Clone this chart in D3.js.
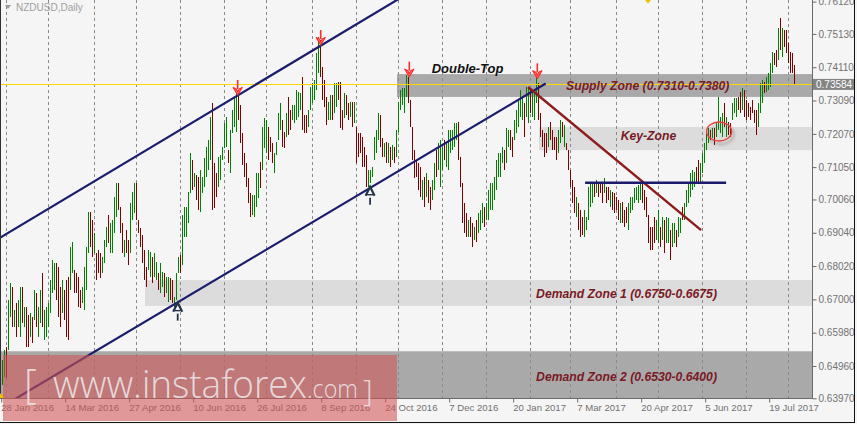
<!DOCTYPE html>
<html><head><meta charset="utf-8">
<script src="https://cdn.jsdelivr.net/npm/d3@7/dist/d3.min.js"></script>
<style>html,body{margin:0;padding:0;background:#f5f5f5;}svg{display:block;}</style>
</head><body>
<svg id="chart" width="857" height="424"></svg>
<script>
// ---------------- DATA ----------------
const symbolTitle = "NZDUSD,Daily";
const dateLabels = ["28 Jan 2016","14 Mar 2016","27 Apr 2016","10 Jun 2016","26 Jul 2016","8 Sep 2016","24 Oct 2016","7 Dec 2016","20 Jan 2017","7 Mar 2017","20 Apr 2017","5 Jun 2017","19 Jul 2017"];
const dateLabelBars = [0,32,64,96,128,160,192,224,256,288,320,352,384];
const monthStartBars = [2,23,46,67,89,111,132,155,177,198,220,242,264,284,307,328,350,372,393];
const priceTicks = [0.76120,0.75130,0.74110,0.73090,0.72070,0.71050,0.70060,0.69040,0.68020,0.67000,0.65980,0.64960,0.63970];
const lastPrice = 0.73584;

const highs = [
0.6514,0.6545,0.6554,0.6698,0.6750,0.6738,0.6667,0.6689,0.6698,0.6738,
0.6738,0.6676,0.6676,0.6652,0.6658,0.6646,0.6728,0.6719,0.6676,0.6728,
0.6781,0.6667,0.6676,0.6689,0.6759,0.6820,0.6811,0.6811,0.6799,0.6738,
0.6759,0.6728,0.6759,0.6768,0.6860,0.6876,0.6790,0.6781,0.6768,0.6728,
0.6738,0.6799,0.6860,0.6967,0.6967,0.6943,0.6903,0.6842,0.6851,0.6842,
0.6830,0.6882,0.6922,0.6958,0.6934,0.6943,0.7013,0.7056,0.7056,0.6983,
0.6934,0.6882,0.6912,0.6882,0.6995,0.7029,0.7056,0.7056,0.6943,0.6918,
0.6897,0.6851,0.6799,0.6851,0.6845,0.6830,0.6842,0.6814,0.6781,0.6811,
0.6784,0.6781,0.6768,0.6768,0.6765,0.6759,0.6707,0.6781,0.6830,0.6836,
0.6958,0.6983,0.6983,0.7029,0.7148,0.7127,0.7087,0.7081,0.7075,
0.7096,0.7075,0.7133,0.7167,0.7188,0.7259,0.7301,0.7118,0.7087,0.7136,
0.7142,0.7167,0.7240,0.7259,0.7157,0.7219,0.7280,0.7320,0.7332,0.7332,
0.7295,0.7210,0.7148,0.7118,0.7072,0.7026,0.7019,0.7019,0.7087,0.7087,
0.7121,0.7228,0.7255,0.7249,0.7228,0.7197,0.7179,0.7148,0.7182,0.7271,
0.7301,0.7249,0.7213,0.7271,0.7320,0.7280,0.7295,0.7295,0.7341,0.7335,
0.7332,0.7381,0.7265,0.7265,0.7280,0.7350,0.7363,0.7372,0.7455,0.7504,
0.7494,0.7412,0.7372,0.7320,0.7304,0.7326,0.7326,0.7363,0.7363,0.7366,
0.7366,0.7280,0.7332,0.7326,0.7301,0.7304,0.7304,0.7304,0.7228,0.7210,
0.7210,0.7197,0.7167,0.7142,0.7096,0.7096,0.7105,0.7197,0.7219,0.7271,
0.7265,0.7194,0.7179,0.7182,0.7179,0.7167,0.7173,0.7167,0.7219,0.7304,
0.7341,0.7347,0.7347,0.7387,0.7381,0.7311,0.7228,0.7157,0.7127,0.7118,
0.7105,0.7065,0.7075,0.7087,0.7065,0.7044,0.7065,0.7118,0.7157,0.7179,
0.7188,0.7167,0.7188,0.7179,0.7219,0.7219,0.7219,0.7240,0.7240,0.7243,
0.7136,0.7056,0.6995,0.6964,0.6943,0.6952,0.6934,0.6922,0.6943,0.6964,
0.6974,0.6995,0.6983,0.6995,0.7035,0.7056,0.7056,0.7075,0.7127,0.7148,
0.7148,0.7167,0.7157,0.7225,0.7219,0.7219,0.7197,0.7249,0.7280,0.7311,
0.7341,0.7320,0.7301,0.7350,0.7347,0.7341,0.7341,0.7341,0.7381,0.7363,
0.7271,0.7219,0.7210,0.7210,0.7228,0.7243,0.7219,0.7197,0.7197,0.7219,
0.7249,0.7243,0.7234,0.7179,0.7157,0.7096,0.7065,0.7044,0.7013,0.6995,
0.6974,0.6952,0.6974,0.6952,0.7044,0.7056,0.7056,0.7059,0.7065,0.7059,
0.7056,0.7056,0.7072,0.7044,0.7044,0.7035,0.7029,0.7026,0.7013,0.7004,
0.6995,0.6998,0.6974,0.6983,0.6995,0.7013,0.7013,0.7041,0.7044,0.7050,
0.7059,0.7059,0.7035,0.7013,0.6958,0.6922,0.6922,0.6952,0.6943,0.6974,
0.6922,0.6952,0.6943,0.6952,0.6949,0.6912,0.6934,0.6934,0.6912,0.6952,
0.6949,0.6983,0.6995,0.7035,0.7056,0.7087,0.7096,0.7090,0.7105,0.7127,
0.7118,0.7148,0.7179,0.7210,0.7225,0.7219,0.7225,0.7225,0.7240,0.7320,
0.7259,0.7271,0.7301,0.7259,0.7243,0.7240,0.7301,0.7317,0.7317,0.7320,
0.7335,0.7347,0.7341,0.7311,0.7301,0.7289,0.7311,0.7280,0.7280,0.7301,
0.7363,0.7372,0.7366,0.7381,0.7393,0.7424,0.7458,0.7455,0.7464,0.7531,
0.7562,0.7531,0.7525,0.7525,0.7485,0.7458,0.7455,0.7418];
const lows = [
0.6437,0.6462,0.6459,0.6545,0.6646,0.6615,0.6615,0.6585,0.6615,0.6585,
0.6627,0.6615,0.6554,0.6554,0.6585,0.6566,0.6637,0.6615,0.6585,0.6627,
0.6615,0.6575,0.6585,0.6615,0.6658,0.6719,0.6728,0.6698,0.6646,0.6615,
0.6658,0.6637,0.6585,0.6575,0.6728,0.6781,0.6719,0.6719,0.6676,0.6673,
0.6689,0.6667,0.6728,0.6842,0.6860,0.6830,0.6842,0.6759,0.6781,0.6765,
0.6781,0.6811,0.6860,0.6872,0.6842,0.6842,0.6903,0.6952,0.6974,0.6903,
0.6842,0.6830,0.6842,0.6805,0.6842,0.6943,0.6964,0.6943,0.6903,0.6860,
0.6811,0.6759,0.6738,0.6790,0.6768,0.6750,0.6768,0.6759,0.6728,0.6719,
0.6738,0.6707,0.6719,0.6692,0.6698,0.6689,0.6676,0.6698,0.6781,0.6781,
0.6805,0.6891,0.6891,0.6934,0.7026,0.7035,0.7044,0.7004,0.6974,
0.6967,0.7026,0.7044,0.7075,0.7096,0.7127,0.6974,0.6980,0.7013,0.7044,
0.7065,0.7127,0.7164,0.7167,0.7118,0.7087,0.7210,0.7228,0.7213,0.7249,
0.7179,0.7111,0.7075,0.7044,0.6995,0.6952,0.6958,0.6952,0.6983,0.7010,
0.7041,0.7096,0.7164,0.7148,0.7127,0.7151,0.7118,0.7087,0.7142,0.7188,
0.7219,0.7167,0.7164,0.7197,0.7203,0.7219,0.7249,0.7240,0.7249,0.7259,
0.7280,0.7219,0.7210,0.7210,0.7228,0.7280,0.7301,0.7311,0.7341,0.7393,
0.7381,0.7311,0.7289,0.7234,0.7249,0.7249,0.7249,0.7271,0.7289,0.7311,
0.7225,0.7219,0.7255,0.7265,0.7249,0.7259,0.7228,0.7240,0.7118,0.7136,
0.7148,0.7105,0.7105,0.7044,0.7044,0.7056,0.7075,0.7127,0.7148,0.7188,
0.7167,0.7136,0.7136,0.7118,0.7118,0.7105,0.7127,0.7118,0.7136,0.7213,
0.7280,0.7295,0.7271,0.7320,0.7301,0.7228,0.7127,0.7072,0.7075,0.7035,
0.7013,0.7004,0.6983,0.7013,0.6995,0.6974,0.7004,0.7035,0.7075,0.7096,
0.7044,0.7096,0.7127,0.7105,0.7096,0.7148,0.7157,0.7167,0.7188,0.7127,
0.7044,0.6934,0.6903,0.6891,0.6891,0.6891,0.6860,0.6882,0.6876,0.6903,
0.6912,0.6934,0.6922,0.6943,0.6943,0.6974,0.6974,0.7004,0.7035,0.7075,
0.7075,0.7118,0.7096,0.7118,0.7167,0.7157,0.7136,0.7188,0.7210,0.7228,
0.7259,0.7249,0.7197,0.7259,0.7240,0.7271,0.7259,0.7249,0.7301,0.7249,
0.7197,0.7167,0.7136,0.7148,0.7167,0.7188,0.7157,0.7157,0.7127,0.7148,
0.7179,0.7197,0.7167,0.7157,0.7096,0.7044,0.6995,0.6964,0.6952,0.6912,
0.6891,0.6897,0.6891,0.6912,0.6943,0.6983,0.6995,0.7013,0.7026,0.7013,
0.7026,0.6995,0.7026,0.6995,0.7004,0.6983,0.6974,0.6964,0.6974,0.6943,
0.6934,0.6934,0.6922,0.6934,0.6912,0.6964,0.6974,0.6995,0.7004,0.6995,
0.7004,0.6995,0.6974,0.6952,0.6872,0.6851,0.6851,0.6872,0.6882,0.6872,
0.6860,0.6882,0.6842,0.6872,0.6872,0.6820,0.6860,0.6872,0.6860,0.6891,
0.6903,0.6943,0.6943,0.6983,0.6995,0.7013,0.7035,0.7044,0.7056,0.7056,
0.7056,0.7087,0.7118,0.7157,0.7179,0.7188,0.7194,0.7173,0.7197,0.7219,
0.7210,0.7197,0.7228,0.7197,0.7203,0.7197,0.7249,0.7271,0.7259,0.7280,
0.7271,0.7280,0.7259,0.7249,0.7259,0.7249,0.7271,0.7240,0.7203,0.7228,
0.7271,0.7301,0.7332,0.7335,0.7341,0.7350,0.7393,0.7418,0.7412,0.7433,
0.7464,0.7442,0.7473,0.7455,0.7424,0.7393,0.7393,0.7357];
// g = bullish bar, r = bearish bar
const barDirections = (
"ggrggrgrgg"+"rgrrgrgrgg"+"rggggggrrr"+"grrrggrrrr"+"ggggrrgrrr"+
"gggrggggrr"+"rgrrgggrrr"+"rrrggrggrg"+"grggrrgggr"+"gggggrgrr"+
"ggggggrrrg"+"ggggrggggr"+"rrrrrrgggg"+"rgggrrrggg"+"grrgrrgggg"+
"grrrgggggg"+"rrrrggrggr"+"rrgrrgrgrr"+"rrrrgggggg"+"rrgrgrgrgg"+
"ggggrrrrrr"+"rgrgrrggrg"+"ggrggggggr"+"rrrrgrrgrg"+"ggrggggggg"+
"ggrggrrggg"+"ggrggrgggr"+"rrrrgrrrrg"+"grgrrrrrgr"+"rrgggggrgr"+
"rrgrrgrrrr"+"grrrgggggg"+"grrrrrrrgg"+"rgrggrggrg"+"grggggggrr"+
"gggggrgrgg"+"ggrgrrgggr"+"rgrrrrrrrg"+"ggrggggrrg"+"rgrrrrrr").split("");

// zones: [startBar, lowPrice, highPrice]
const supplyZone = [197.6, 0.7320, 0.7390];
const keyZone = [268.6, 0.7157, 0.7228];
const demandZone1 = [71.6, 0.6680, 0.6759];
const demandZone2 = [-2, 0.6380, 0.6541];
// trend lines: [[bar, price],[bar, price]]
const channelUpper = [[-2, 0.68843], [200, 0.76256]];
const channelLower = [[-2, 0.63634], [272, 0.73610]];
const downTrend = [[263.2, 0.73504], [349.7, 0.69123]];
const breakLevel = [[291.7, 0.70572], [362.2, 0.70572]];
const circleMark = [358.7, 0.72141];
const topArrows = [[118, 0.7326], [159.5, 0.7479], [203.8, 0.7382], [267.8, 0.7377]];
const bottomArrows = [[88, 0.6690], [184.2, 0.7045]];
const annotations = [
  {text:"Double-Top", bar:215, price:0.7393, kind:"black"},
  {text:"Supply Zone (0.7310-0.7380)", bar:282.2, price:0.7342, kind:"zone"},
  {text:"Key-Zone", bar:309.5, price:0.7188, kind:"zone"},
  {text:"Demand Zone 1 (0.6750-0.6675)", bar:267.2, price:0.6705, kind:"zone"},
  {text:"Demand Zone 2 (0.6530-0.6400)", bar:267.2, price:0.6450, kind:"zone"}
];

// ---------------- DRAW ----------------
const svg = d3.select("#chart");
const PR = 812, PB = 398;
const x = d3.scaleLinear().domain([0, 400]).range([1.7, 801.7]);
const y = d3.scaleLinear().domain([0.63970, 0.76120]).range([398.3, 1.6]);
const AX_FONT = "'Liberation Sans', Arial, sans-serif";

svg.append("rect").attr("width", 857).attr("height", 424).attr("fill", "#f5f5f5");

const defs = svg.append("defs");
defs.append("clipPath").attr("id", "plotclip").append("rect")
  .attr("x", 0).attr("y", 0).attr("width", PR).attr("height", PB);
const f = defs.append("filter").attr("id", "shadow").attr("x", "-50%").attr("y", "-50%").attr("width", "200%").attr("height", "200%");
f.append("feDropShadow").attr("dx", 2).attr("dy", 3).attr("stdDeviation", 1.6)
  .attr("flood-color", "#555").attr("flood-opacity", 0.55);

const plot = svg.append("g").attr("clip-path", "url(#plotclip)");

// zones
function zone(z, fill) {
  plot.append("rect")
    .attr("x", Math.round(x(z[0]))).attr("y", y(z[2]))
    .attr("width", PR - Math.round(x(z[0]))).attr("height", y(z[1]) - y(z[2]))
    .attr("fill", fill);
}
zone(demandZone2, "#a9a9a9");
zone(demandZone1, "#dcdcdc");
zone(keyZone, "#dcdcdc");
zone(supplyZone, "#a9a9a9");

// month grid
plot.selectAll("line.grid").data(monthStartBars).join("line")
  .attr("class", "grid")
  .attr("x1", d => Math.round(x(d)) + 0.5).attr("x2", d => Math.round(x(d)) + 0.5)
  .attr("y1", 0).attr("y2", PB)
  .attr("stroke", "#8a8a8a").attr("stroke-width", 1).attr("stroke-dasharray", "3,3")
  .attr("shape-rendering", "crispEdges");

// bars
const bars = highs.map((h, i) => ({i, h, l: lows[i], d: barDirections[i]}));
plot.selectAll("line.bar").data(bars).join("line")
  .attr("class", "bar")
  .attr("x1", d => Math.round(x(d.i)) + 0.5).attr("x2", d => Math.round(x(d.i)) + 0.5)
  .attr("y1", d => Math.round(y(d.h))).attr("y2", d => Math.round(y(d.l)))
  .attr("stroke", d => d.d === "g" ? "#008000" : "#800000")
  .attr("stroke-width", 1).attr("shape-rendering", "crispEdges");

// current price line
plot.append("line").attr("x1", 0).attr("x2", PR)
  .attr("y1", Math.round(y(lastPrice)) + 0.5).attr("y2", Math.round(y(lastPrice)) + 0.5)
  .attr("stroke", "#ffd700").attr("stroke-width", 1.2);

// trend lines
const lineGen = d3.line().x(d => x(d[0])).y(d => y(d[1]));
plot.append("path").attr("d", lineGen(channelUpper)).attr("stroke", "#1c1c6e").attr("stroke-width", 2.2).attr("fill", "none");
plot.append("path").attr("d", lineGen(channelLower)).attr("stroke", "#1c1c6e").attr("stroke-width", 2.2).attr("fill", "none");
plot.append("path").attr("d", lineGen(downTrend)).attr("stroke", "#8e1c1c").attr("stroke-width", 2.4).attr("fill", "none");
plot.append("path").attr("d", lineGen(breakLevel)).attr("stroke", "#1c1c6e").attr("stroke-width", 2.6).attr("fill", "none");

// circle
plot.append("ellipse").attr("cx", x(circleMark[0])).attr("cy", y(circleMark[1]))
  .attr("rx", 12.5).attr("ry", 9.5).attr("fill", "none")
  .attr("stroke", "#e8403a").attr("stroke-width", 1.4).attr("filter", "url(#shadow)");

// top (red, down) arrows
topArrows.forEach(a => {
  const cx = x(a[0]), ty = y(a[1]);
  const g = plot.append("g");
  g.append("line").attr("x1", cx).attr("x2", cx).attr("y1", ty - 15).attr("y2", ty - 6)
    .attr("stroke", "#ff2a2a").attr("stroke-width", 1.6);
  g.append("path").attr("d", `M${cx-4.5},${ty-7.5} L${cx},${ty} L${cx+4.5},${ty-7.5} L${cx+1.5},${ty-6} L${cx},${ty-3} L${cx-1.5},${ty-6} Z`)
    .attr("fill", "#ff8a8a").attr("stroke", "#ff2a2a").attr("stroke-width", 1.2).attr("stroke-linejoin", "round");
});
// bottom (dark, up) arrows
bottomArrows.forEach(a => {
  const cx = x(a[0]), ty = y(a[1]);
  const g = plot.append("g");
  g.append("path").attr("d", `M${cx-4.5},${ty+9} L${cx},${ty} L${cx+4.5},${ty+9}`)
    .attr("fill", "none").attr("stroke", "#23344a").attr("stroke-width", 2.2);
  g.append("line").attr("x1", cx - 3).attr("x2", cx + 3).attr("y1", ty + 8).attr("y2", ty + 8)
    .attr("stroke", "#23344a").attr("stroke-width", 1.4);
  g.append("line").attr("x1", cx).attr("x2", cx).attr("y1", ty + 11).attr("y2", ty + 18)
    .attr("stroke", "#23344a").attr("stroke-width", 1.8);
});

// annotations
svg.selectAll("text.ann").data(annotations).join("text")
  .attr("class", "ann")
  .attr("x", d => x(d.bar)).attr("y", d => y(d.price))
  .attr("font-family", AX_FONT).attr("font-size", d => d.kind === "black" ? 13 : 12.2)
  .attr("font-weight", "bold").attr("font-style", "italic")
  .attr("fill", d => d.kind === "black" ? "#111" : "#7a1a24")
  .text(d => d.text);

// axes frame
svg.append("line").attr("x1", PR + 0.5).attr("x2", PR + 0.5).attr("y1", 0).attr("y2", PB + 0.5)
  .attr("stroke", "#6a6a6a");
svg.append("line").attr("x1", 0).attr("x2", PR + 0.5).attr("y1", PB + 0.5).attr("y2", PB + 0.5)
  .attr("stroke", "#6a6a6a");
svg.append("line").attr("x1", 0.5).attr("x2", 0.5).attr("y1", 0).attr("y2", PB)
  .attr("stroke", "#303030");

// right axis
const yAxis = d3.axisRight(y).tickValues(priceTicks).tickFormat(d3.format(".5f")).tickSize(4).tickPadding(2);
const gy = svg.append("g").attr("transform", `translate(${PR + 0.5},0)`).call(yAxis);
gy.select(".domain").remove();
gy.selectAll("line").attr("stroke", "#6a6a6a");
gy.selectAll("text").attr("font-family", AX_FONT).attr("font-size", 10).attr("fill", "#727272");

// bottom axis
const xAxis = d3.axisBottom(x).tickValues(dateLabelBars).tickFormat((d, i) => dateLabels[i]).tickSize(4);
const gx = svg.append("g").attr("transform", `translate(0,${PB + 0.5})`).call(xAxis);
gx.select(".domain").remove();
gx.selectAll("line").attr("stroke", "#6a6a6a").attr("transform", function(){ return "translate(-0.5,0)"; });
gx.selectAll("text").attr("font-family", AX_FONT).attr("font-size", 9.6).attr("fill", "#727272")
  .attr("text-anchor", "start").attr("dx", -1).attr("y", 6).attr("dy", "0.71em");

// current price label
const lp = y(lastPrice);
svg.append("rect").attr("x", PR + 1).attr("y", lp - 5.5).attr("width", 41).attr("height", 11).attr("fill", "#848484");
svg.append("text").attr("x", PR + 4).attr("y", lp).attr("dy", "0.35em")
  .attr("font-family", AX_FONT).attr("font-size", 10).attr("fill", "#ffffff").text(d3.format(".5f")(lastPrice));

// title
svg.append("path").attr("d", "M5,5 L11,5 L8,9 Z").attr("fill", "#9a9a9a");
svg.append("text").attr("x", 16).attr("y", 11).attr("font-family", AX_FONT).attr("font-size", 10)
  .attr("fill", "#a0a0a0").text(symbolTitle);

// small markers
svg.append("path").attr("d", "M645,0 L651,0 L648,3.5 Z").attr("fill", "#f0c000");
svg.append("path").attr("d", "M0,393 L5,398 L0,398 Z").attr("fill", "#f0c000");

// outer frame
svg.append("line").attr("x1", 0).attr("x2", 855).attr("y1", 422.5).attr("y2", 422.5).attr("stroke", "#111");
svg.append("line").attr("x1", 854.5).attr("x2", 854.5).attr("y1", 0).attr("y2", 423).attr("stroke", "#111");

// watermark
svg.append("rect").attr("x", 3).attr("y", 355).attr("width", 394).attr("height", 66)
  .attr("fill", "rgb(208,84,84)").attr("fill-opacity", 0.58);
const wm = svg.append("g").attr("fill", "#ece6e6").attr("fill-opacity", 0.9)
  .attr("font-family", "'Open Sans', 'Noto Sans', sans-serif").attr("font-weight", 300);
wm.append("text").attr("x", 24).attr("y", 398).attr("font-size", 40).text("[");
wm.append("text").attr("x", 53).attr("y", 398).attr("font-size", 38).attr("textLength", 254).attr("lengthAdjust", "spacingAndGlyphs").text("www.instaforex");
wm.append("text").attr("x", 307).attr("y", 398).attr("font-size", 25).attr("textLength", 51).attr("lengthAdjust", "spacingAndGlyphs").text(".com");
wm.append("text").attr("x", 363).attr("y", 401).attr("font-size", 30).text("]");
</script>
</body></html>
